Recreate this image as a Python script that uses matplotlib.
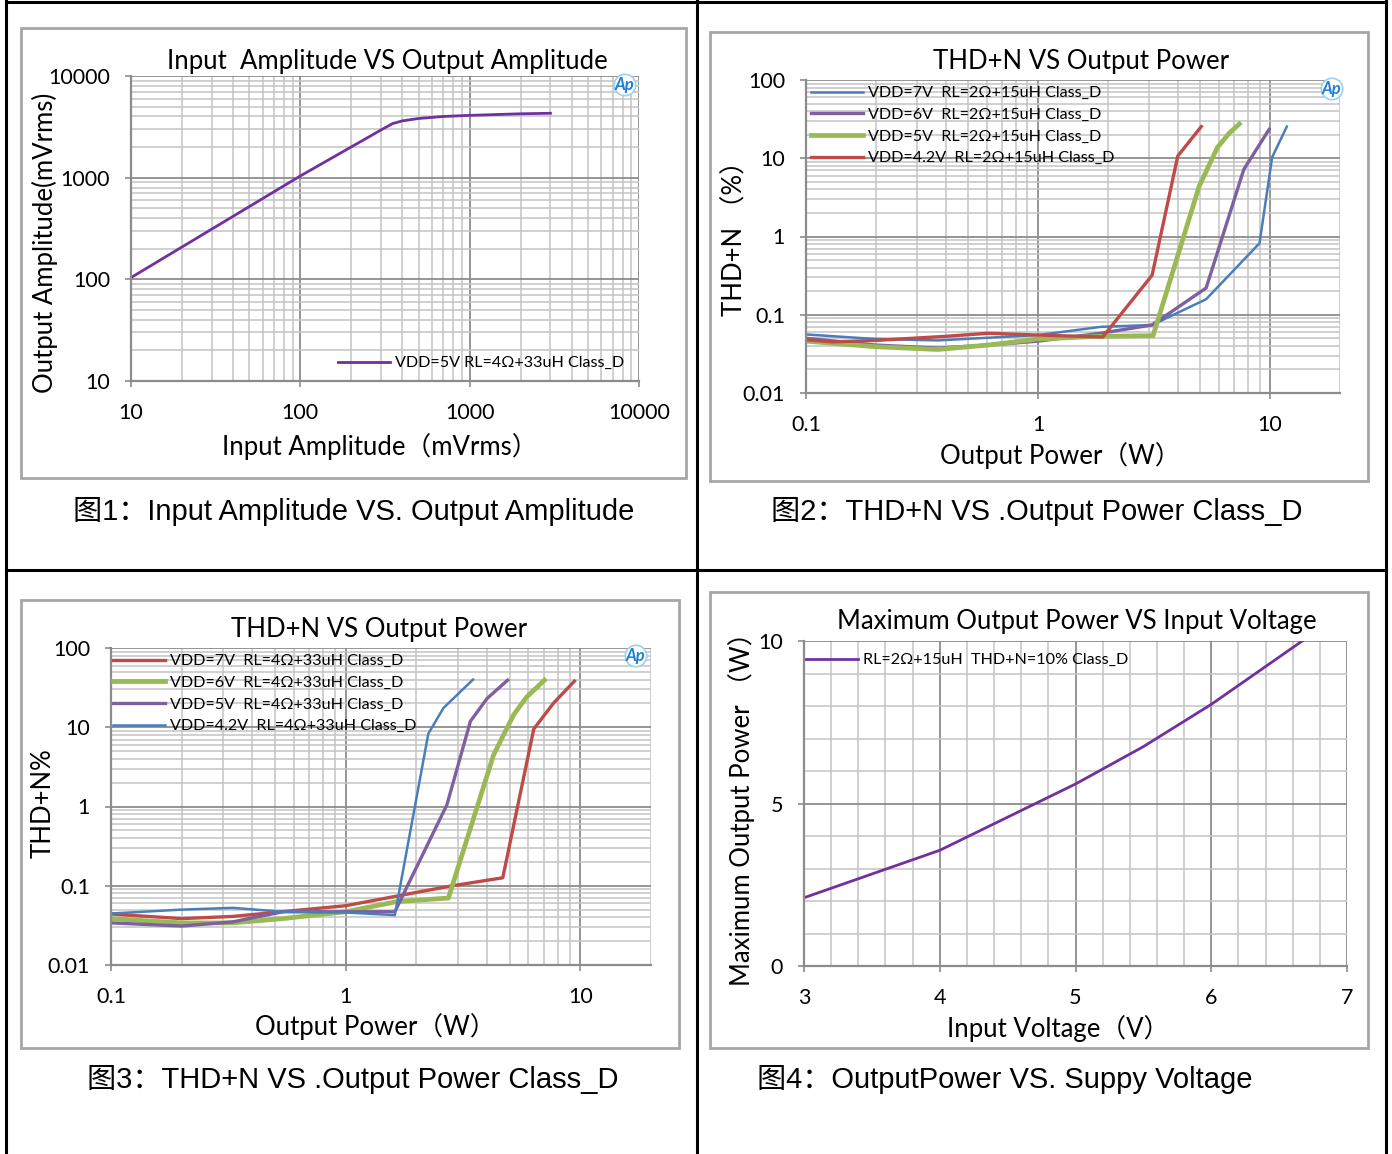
import matplotlib
matplotlib.use("Agg")
import matplotlib.pyplot as plt
from matplotlib.patches import Rectangle
from matplotlib.lines import Line2D
from matplotlib.ticker import FuncFormatter, NullFormatter, LogLocator, MultipleLocator

# ---- data ----
in_amp = [10, 100, 300, 350, 400, 500, 700, 1000, 2000, 3000]
out_amp = [104, 1040, 2950, 3400, 3620, 3820, 4000, 4100, 4250, 4300]

p2_x_7v = [0.1, 0.2, 0.37, 1.0, 1.86, 3.1, 5.3, 9.0, 10.2, 11.8]
p2_y_7v = [0.056, 0.049, 0.047, 0.055, 0.070, 0.074, 0.158, 0.82, 10.3, 25.4]
p2_x_6v = [0.1, 0.2, 0.37, 0.61, 1.0, 1.86, 3.1, 5.3, 7.7, 9.9]
p2_y_6v = [0.05, 0.041, 0.0375, 0.041, 0.046, 0.058, 0.074, 0.22, 7.2, 23.4]
p2_x_5v = [0.1, 0.2, 0.37, 0.61, 1.0, 1.86, 3.13, 4.94, 5.93, 6.66, 7.36]
p2_y_5v = [0.046, 0.039, 0.036, 0.041, 0.049, 0.053, 0.054, 4.35, 13.8, 20.9, 27.4]
p2_x_42 = [0.1, 0.13, 0.2, 0.4, 0.61, 1.0, 1.9, 3.1, 4.0, 5.05]
p2_y_42 = [0.048, 0.045, 0.047, 0.053, 0.058, 0.055, 0.052, 0.32, 10.7, 25.4]

p3_x_7v = [0.1, 0.2, 0.33, 1.0, 1.65, 2.79, 4.67, 6.33, 7.7, 9.44]
p3_y_7v = [0.044, 0.0385, 0.041, 0.056, 0.074, 0.099, 0.126, 9.5, 20.3, 38.2]
p3_x_6v = [0.1, 0.2, 0.33, 0.54, 1.0, 1.65, 2.74, 4.27, 5.2, 5.9, 7.03]
p3_y_6v = [0.0385, 0.034, 0.034, 0.0385, 0.047, 0.063, 0.07, 4.5, 14.4, 24.0, 39.3]
p3_x_5v = [0.1, 0.2, 0.33, 0.54, 1.0, 1.62, 2.7, 3.4, 4.0, 4.9]
p3_y_5v = [0.034, 0.031, 0.035, 0.047, 0.047, 0.047, 1.05, 11.9, 23.0, 39.3]
p3_x_42 = [0.1, 0.2, 0.33, 0.54, 1.0, 1.62, 2.25, 2.61, 3.49]
p3_y_42 = [0.0446, 0.05, 0.0526, 0.047, 0.046, 0.0426, 8.3, 17.5, 40.0]

vdd = [3, 4, 5, 5.5, 6, 6.67]
pmax = [2.1, 3.56, 5.6, 6.75, 8.05, 10.0]

# ---- style ----
W, H = 1392, 1154
CHART_FONT = ["Lato", "Noto Sans CJK SC"]
CAP_FONT = ["Liberation Sans", "Noto Sans CJK SC"]
MAJ = "#8c8c8c"
MIN = "#c4c4c4"
BLUE, RED, GREEN, PURPLE = "#4a7ebb", "#be4b48", "#98b954", "#7d60a0"
VIOLET = "#7030a0"
TITLE_FS = 18.5
LABEL_FS = 18.5
TICK_FS = 15.5
LEG_FS = 11.6
CAP_FS = 21

plt.rcParams["font.family"] = CHART_FONT

fig = plt.figure(figsize=(W / 100, H / 100), dpi=100, facecolor="white")


def fbox(x0, y0, x1, y1):
    return [x0 / W, 1 - y1 / H, (x1 - x0) / W, (y1 - y0) / H]


def ftext(x, y, s, **kw):
    fig.text(x / W, 1 - y / H, s, **kw)


def gfmt(v, pos):
    return "%g" % v


def style_axes(ax, logx=True, logy=True):
    ax.set_facecolor("none")
    if logx:
        ax.set_xscale("log")
        ax.xaxis.set_major_locator(LogLocator(base=10))
        ax.xaxis.set_minor_locator(LogLocator(base=10, subs=range(2, 10)))
        ax.xaxis.set_major_formatter(FuncFormatter(gfmt))
        ax.xaxis.set_minor_formatter(NullFormatter())
    if logy:
        ax.set_yscale("log")
        ax.yaxis.set_major_locator(LogLocator(base=10))
        ax.yaxis.set_minor_locator(LogLocator(base=10, subs=range(2, 10)))
        ax.yaxis.set_major_formatter(FuncFormatter(gfmt))
        ax.yaxis.set_minor_formatter(NullFormatter())
    ax.grid(which="minor", color=MIN, lw=1.1)
    ax.grid(which="major", color=MAJ, lw=1.3)
    ax.set_axisbelow(True)
    for s in ["top", "right"]:
        ax.spines[s].set_visible(False)
    for s in ["left", "bottom"]:
        ax.spines[s].set_color(MAJ)
        ax.spines[s].set_linewidth(1.6)
    ax.tick_params(which="major", direction="out", length=4, width=1.2, color=MAJ,
                   labelsize=TICK_FS, labelcolor="black")
    ax.tick_params(axis="x", which="major", pad=12)
    ax.tick_params(axis="y", which="major", pad=11)
    ax.tick_params(which="minor", length=0)


def legend(ax, x, y):
    ax.legend(loc="upper left", bbox_to_anchor=(x / W, 1 - y / H), bbox_transform=fig.transFigure,
              frameon=False, borderpad=0, borderaxespad=0, fontsize=LEG_FS, handlelength=3.25,
              handletextpad=0.3, labelspacing=0.46)


def ap_logo(x, y):
    ftext(x, y, "Ap", color="#1f7fd0", fontsize=12, fontweight="bold", style="italic",
          ha="center", va="center",
          bbox=dict(boxstyle="circle,pad=0.05", fc="white", ec="#9fd0f0", lw=1.2))


# ---- table borders & panel frames ----
for xx in [6, 697, 1386]:
    fig.add_artist(Line2D([xx / W, xx / W], [0, 1 - 1 / H], color="black", lw=2.2))
for yy in [2, 570]:
    fig.add_artist(Line2D([6 / W, 1386 / W], [1 - yy / H, 1 - yy / H], color="black", lw=2.2))

for (x0, y0, x1, y1) in [(21, 28, 686, 478), (710, 32, 1368, 481), (21, 600, 679, 1048), (710, 592, 1368, 1048)]:
    fig.add_artist(Rectangle((x0 / W, 1 - y1 / H), (x1 - x0) / W, (y1 - y0) / H,
                             transform=fig.transFigure, fill=False, ec="#a6a6a6", lw=2))

# ---- panel 1 ----
ax1 = fig.add_axes(fbox(131, 76, 639, 381))
style_axes(ax1)
ax1.plot(in_amp, out_amp, color=VIOLET, lw=2, label="VDD=5V RL=4Ω+33uH Class_D")
ax1.set_xlim(10, 10000)
ax1.set_ylim(10, 10000)
legend(ax1, 338, 356)
ftext(387, 62, "Input  Amplitude VS Output Amplitude", fontsize=TITLE_FS, ha="center", va="center")
ftext(380, 447, "Input Amplitude（mVrms）", fontsize=LABEL_FS, ha="center", va="center")
ftext(45, 243, "Output Amplitude(mVrms)", fontsize=LABEL_FS, ha="center", va="center", rotation=90)
ap_logo(625, 85)

# ---- panel 2 ----
ax2 = fig.add_axes(fbox(806, 80, 1340, 393))
style_axes(ax2)
ax2.plot(p2_x_7v, p2_y_7v, color=BLUE, lw=1.8, label="VDD=7V  RL=2Ω+15uH Class_D")
ax2.plot(p2_x_6v, p2_y_6v, color=PURPLE, lw=2.4, label="VDD=6V  RL=2Ω+15uH Class_D")
ax2.plot(p2_x_5v, p2_y_5v, color=GREEN, lw=3.4, label="VDD=5V  RL=2Ω+15uH Class_D")
ax2.plot(p2_x_42, p2_y_42, color=RED, lw=2.4, label="VDD=4.2V  RL=2Ω+15uH Class_D")
ax2.set_xlim(0.1, 20)
ax2.set_ylim(0.01, 100)
legend(ax2, 811, 86)
ftext(1081, 62, "THD+N VS Output Power", fontsize=TITLE_FS, ha="center", va="center")
ftext(1060, 456, "Output Power（W）", fontsize=LABEL_FS, ha="center", va="center")
ftext(735, 232, "THD+N （%）", fontsize=LABEL_FS, ha="center", va="center", rotation=90)
ap_logo(1332, 89)

# ---- panel 3 ----
ax3 = fig.add_axes(fbox(111, 648, 651, 965))
style_axes(ax3)
ax3.plot(p3_x_7v, p3_y_7v, color=RED, lw=2.4, label="VDD=7V  RL=4Ω+33uH Class_D")
ax3.plot(p3_x_6v, p3_y_6v, color=GREEN, lw=3.4, label="VDD=6V  RL=4Ω+33uH Class_D")
ax3.plot(p3_x_5v, p3_y_5v, color=PURPLE, lw=2.4, label="VDD=5V  RL=4Ω+33uH Class_D")
ax3.plot(p3_x_42, p3_y_42, color=BLUE, lw=1.8, label="VDD=4.2V  RL=4Ω+33uH Class_D")
ax3.set_xlim(0.1, 20)
ax3.set_ylim(0.01, 100)
legend(ax3, 113, 654)
ftext(379, 630, "THD+N VS Output Power", fontsize=TITLE_FS, ha="center", va="center")
ftext(375, 1027, "Output Power（W）", fontsize=LABEL_FS, ha="center", va="center")
ftext(43, 803, "THD+N%", fontsize=LABEL_FS, ha="center", va="center", rotation=90)
ap_logo(636, 656)

# ---- panel 4 ----
ax4 = fig.add_axes(fbox(804, 641, 1347, 966))
style_axes(ax4, logx=False, logy=False)
ax4.plot(vdd, pmax, color=VIOLET, lw=2, label="RL=2Ω+15uH  THD+N=10% Class_D")
ax4.set_xlim(3, 7)
ax4.set_ylim(0, 10)
ax4.xaxis.set_major_locator(MultipleLocator(1))
ax4.xaxis.set_minor_locator(MultipleLocator(0.2))
ax4.yaxis.set_major_locator(MultipleLocator(5))
ax4.yaxis.set_minor_locator(MultipleLocator(1))
legend(ax4, 806, 653)
ftext(1077, 622, "Maximum Output Power VS Input Voltage", fontsize=TITLE_FS, ha="center", va="center")
ftext(1058, 1029, "Input Voltage（V）", fontsize=LABEL_FS, ha="center", va="center")
ftext(742, 803, "Maximum Output Power （W）", fontsize=LABEL_FS, ha="center", va="center", rotation=90)

# ---- captions ----
ftext(73, 511, "图1：Input Amplitude VS. Output Amplitude", fontsize=CAP_FS, family=CAP_FONT, va="center")
ftext(771, 512, "图2：THD+N VS .Output Power Class_D", fontsize=CAP_FS, family=CAP_FONT, va="center")
ftext(87, 1079, "图3：THD+N VS .Output Power Class_D", fontsize=CAP_FS, family=CAP_FONT, va="center")
ftext(757, 1080, "图4：OutputPower VS. Suppy Voltage", fontsize=CAP_FS, family=CAP_FONT, va="center")

fig.savefig("out.png", dpi=100, facecolor="white")
